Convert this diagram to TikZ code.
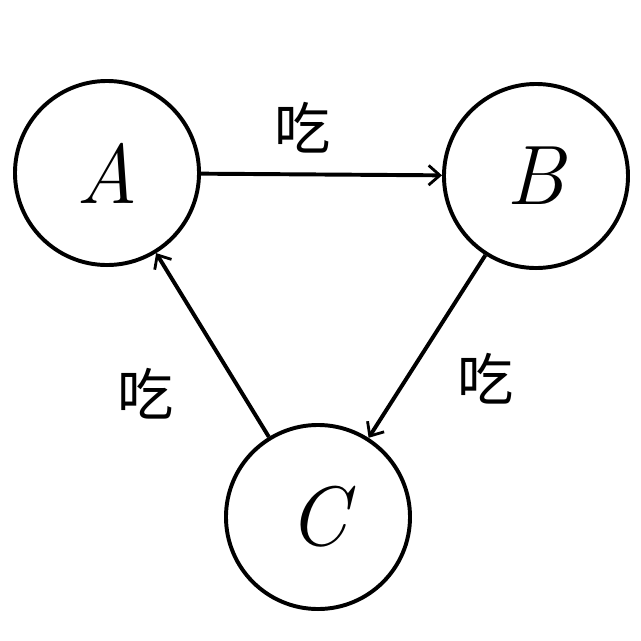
\documentclass[tikz,border=0pt]{standalone}
\usepackage{fontspec}
\newfontfamily\cjk{Noto Sans CJK SC}
\usetikzlibrary{arrows.meta}

\begin{document}
\begin{tikzpicture}[auto, x=0.025cm, y=-0.025cm, line width=2.8pt,
    animal/.style={circle, draw, minimum size=4.6cm, inner sep=0pt,
      font=\fontsize{60}{60}\selectfont},
    eats/.style={-{Straight Barb[length=8pt, width=14pt, line width=2pt]}},
    verb/.style={font=\cjk\fontsize{40}{40}\selectfont, inner sep=14pt}]
  \useasboundingbox (0,0) rectangle (641,641);

  \node[animal] (A) at (107,173) {\itshape A};
  \node[animal] (B) at (536,176) {\itshape B};
  \node[animal] (C) at (318,517) {\itshape C};

  \path
  (A) edge[eats] node[verb, pos=0.42] {吃} (B)
  (B) edge[eats] node[verb, pos=0.42] {吃} (C)
  (C) edge[eats] node[verb, pos=0.55, inner sep=22pt] {吃} (A);
\end{tikzpicture}
\end{document}
